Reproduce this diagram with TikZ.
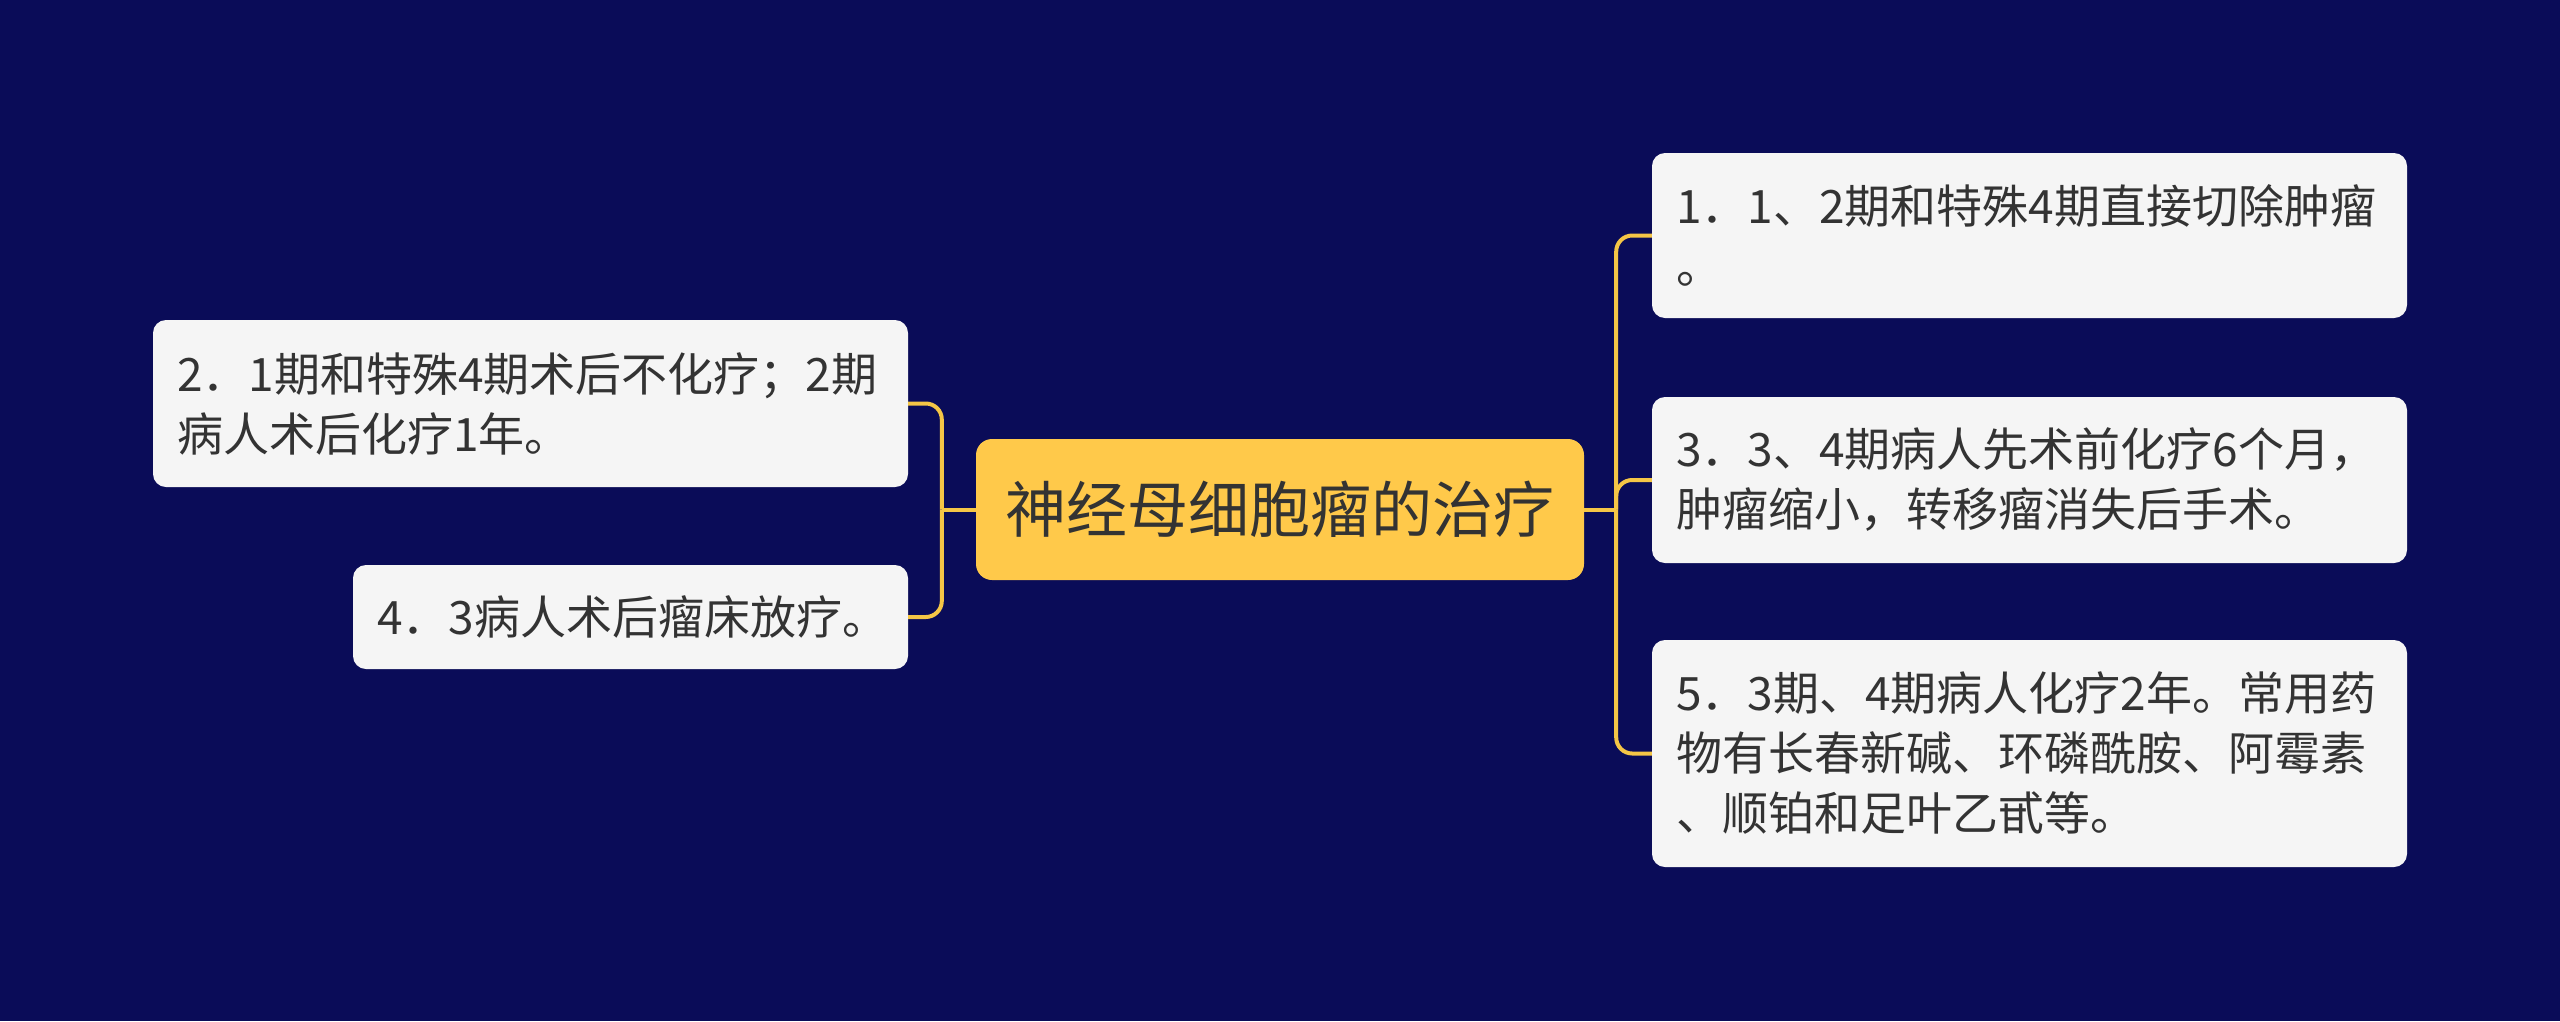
\documentclass[tikz,border=0pt]{standalone}
\usepackage{fontspec}
\setmainfont{Noto Sans CJK SC}
\usetikzlibrary{calc}
\definecolor{bgc}{HTML}{0A0C58}
\definecolor{rootc}{HTML}{FFC94A}
\definecolor{linec}{HTML}{F5C646}
\definecolor{boxc}{HTML}{F5F5F5}
\definecolor{txtc}{HTML}{333333}
\tikzset{
  leaf/.style={fill=boxc, rounded corners=13pt, inner xsep=24pt, inner ysep=0pt,
    align=left, text=txtc, font=\fontsize{46}{60}\selectfont},
  rootbox/.style={fill=rootc, rounded corners=16pt, inner sep=0pt, align=center,
    text=txtc, font=\fontsize{61}{70}\selectfont, minimum width=608pt, minimum height=141pt},
  conn/.style={draw=linec, line width=4pt, rounded corners=16pt}
}
\begin{document}
\begin{tikzpicture}[x=1pt,y=1pt]
\fill[bgc] (0,0) rectangle (2560,-1021);
\useasboundingbox (0,0) rectangle (2560,-1021);

\node[rootbox] (root) at (1280,-509.5) {神经母细胞瘤的治疗};

\node[leaf, text width=707pt, minimum height=165pt] (n1) at (2029.5,-235.5)
  {1．1、2期和特殊4期直接切除肿瘤\\。};
\node[leaf, text width=707pt, minimum height=166pt] (n3) at (2029.5,-480)
  {3．3、4期病人先术前化疗6个月，\\肿瘤缩小，转移瘤消失后手术。};
\node[leaf, text width=707pt, minimum height=227pt] (n5) at (2029.5,-753.5)
  {5．3期、4期病人化疗2年。常用药\\物有长春新碱、环磷酰胺、阿霉素\\、顺铂和足叶乙甙等。};
\node[leaf, text width=707pt, minimum height=167pt] (n2) at (530.5,-403.5)
  {2．1期和特殊4期术后不化疗；2期\\病人术后化疗1年。};
\node[leaf, text width=507pt, minimum height=104pt] (n4) at (630.5,-617)
  {4．3病人术后瘤床放疗。};

\coordinate (rb) at ($(root.east)+(32,0)$);
\coordinate (lb) at ($(root.west)+(-34,0)$);

\draw[conn] (root.east) -- (rb);
\draw[conn] (rb) -- (rb |- n1.west) -- (n1.west);
\draw[conn] (rb) -- (rb |- n3.west) -- (n3.west);
\draw[conn] (rb) -- (rb |- n5.west) -- (n5.west);

\draw[conn] (root.west) -- (lb);
\draw[conn] (lb) -- (lb |- n2.east) -- (n2.east);
\draw[conn] (lb) -- (lb |- n4.east) -- (n4.east);
\end{tikzpicture}
\end{document}
